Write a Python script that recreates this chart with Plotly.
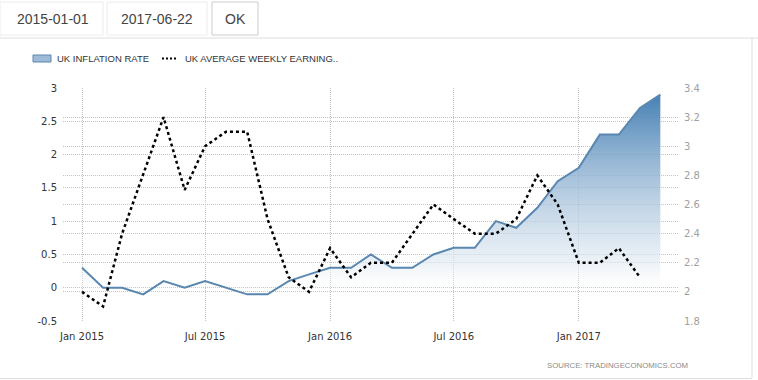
import plotly.graph_objects as go

# ---------------- data ----------------
months = ["2015-01-01", "2015-02-01", "2015-03-01", "2015-04-01", "2015-05-01", "2015-06-01",
          "2015-07-01", "2015-08-01", "2015-09-01", "2015-10-01", "2015-11-01", "2015-12-01",
          "2016-01-01", "2016-02-01", "2016-03-01", "2016-04-01", "2016-05-01", "2016-06-01",
          "2016-07-01", "2016-08-01", "2016-09-01", "2016-10-01", "2016-11-01", "2016-12-01",
          "2017-01-01", "2017-02-01", "2017-03-01", "2017-04-01", "2017-05-01"]

inflation = [0.3, 0.0, 0.0, -0.1, 0.1, 0.0, 0.1, 0.0, -0.1, -0.1, 0.1, 0.2,
             0.3, 0.3, 0.5, 0.3, 0.3, 0.5, 0.6, 0.6, 1.0, 0.9, 1.2, 1.6,
             1.8, 2.3, 2.3, 2.7, 2.9]

earnings = [2.0, 1.9, 2.4, 2.8, 3.2, 2.7, 3.0, 3.1, 3.1, 2.5, 2.1, 2.0,
            2.3, 2.1, 2.2, 2.2, 2.4, 2.6, 2.5, 2.4, 2.4, 2.5, 2.8, 2.6,
            2.2, 2.2, 2.3, 2.1]

x_tick_vals = ["2015-01-01", "2015-07-01", "2016-01-01", "2016-07-01", "2017-01-01"]
x_tick_text = ["Jan 2015", "Jul 2015", "Jan 2016", "Jul 2016", "Jan 2017"]

left_ticks = [-0.5, 0, 0.5, 1, 1.5, 2, 2.5, 3]
left_tick_text = ["-0.5", "0", "0.5", "1", "1.5", "2", "2.5", "3"]
right_ticks = [1.8, 2.0, 2.2, 2.4, 2.6, 2.8, 3.0, 3.2, 3.4]
right_tick_text = ["1.8", "2", "2.2", "2.4", "2.6", "2.8", "3", "3.2", "3.4"]

series_names = ["UK INFLATION RATE", "UK AVERAGE WEEKLY EARNING.."]
date_from, date_to, ok_label = "2015-01-01", "2017-06-22", "OK"
source_text = "SOURCE: TRADINGECONOMICS.COM"

# ---------------- layout geometry ----------------
W, H = 758, 380
PL, PR, PT, PB = 63, 678, 88, 321  # plot area in pixels


def px(x):
    return (x - PL) / (PR - PL)


def py(y):
    return (PB - y) / (PB - PT)


fig = go.Figure()

fig.add_trace(go.Scatter(
    x=months, y=inflation, name=series_names[0], mode="lines",
    line=dict(color="#5a87b0", width=2),
    fill="tozeroy",
    fillgradient=dict(type="vertical",
                      colorscale=[[0, "rgba(255,255,255,0.0)"],
                                  [0.15, "rgba(225,234,243,0.6)"],
                                  [1, "rgba(70,128,180,1)"]],
                      start=-0.1, stop=2.9),
    yaxis="y", showlegend=False, hoverinfo="skip"))

fig.add_trace(go.Scatter(
    x=months[:len(earnings)], y=earnings, name=series_names[1], mode="lines",
    line=dict(color="#000000", width=2.5, dash="dot"),
    yaxis="y2", showlegend=False, hoverinfo="skip"))

grid = "#c4c4c4"
tick_font = dict(family="DejaVu Sans", size=10, color="#333333")

fig.update_layout(
    width=W, height=H,
    margin=dict(l=PL, r=W - PR, t=PT, b=H - PB),
    paper_bgcolor="white", plot_bgcolor="white",
    xaxis=dict(type="date", range=["2014-12-04", "2017-05-27"],
               tickvals=x_tick_vals, ticktext=x_tick_text,
               showgrid=True, gridcolor=grid, griddash="1px,1px", gridwidth=1,
               zeroline=False, showline=False,
               ticks="outside", ticklen=6, tickcolor="rgba(0,0,0,0)",
               tickfont=tick_font),
    yaxis=dict(range=[-0.5, 3], tickvals=left_ticks, ticktext=left_tick_text,
               showgrid=True, gridcolor=grid, griddash="1px,1px", gridwidth=1,
               zeroline=False, showline=False,
               ticks="outside", ticklen=3, tickcolor="rgba(0,0,0,0)",
               tickfont=tick_font),
    yaxis2=dict(range=[1.8, 3.4], tickvals=right_ticks, ticktext=right_tick_text,
                overlaying="y", side="right",
                showgrid=True, gridcolor=grid, griddash="1px,1px", gridwidth=1,
                zeroline=False, showline=False,
                ticks="outside", ticklen=3, tickcolor="rgba(0,0,0,0)",
                tickfont=dict(family="DejaVu Sans", size=10, color="#a0a0a0")),
)

shapes = []
annotations = []

# top input boxes
for (x0, x1, col) in [(0, 103, "#ececec"), (107, 207, "#ececec"), (212, 258, "#cccccc")]:
    shapes.append(dict(type="rect", xref="paper", yref="paper",
                       x0=px(x0), x1=px(x1), y0=py(35), y1=py(2),
                       line=dict(color=col, width=1), fillcolor="white", layer="below"))
for text, cx in [(date_from, 53), (date_to, 157), (ok_label, 235)]:
    annotations.append(dict(text=text, xref="paper", yref="paper", x=px(cx), y=py(19),
                            xanchor="center", yanchor="middle", showarrow=False,
                            font=dict(family="Liberation Sans", size=14, color="#444444")))

# separator and border lines
shapes.append(dict(type="line", xref="paper", yref="paper", x0=px(0), x1=px(758),
                   y0=py(38), y1=py(38), line=dict(color="#dddddd", width=1)))
shapes.append(dict(type="line", xref="paper", yref="paper", x0=px(752), x1=px(752),
                   y0=py(38), y1=py(378), line=dict(color="#dddddd", width=1)))
shapes.append(dict(type="line", xref="paper", yref="paper", x0=px(0), x1=px(752),
                   y0=py(378.5), y1=py(378.5), line=dict(color="#dddddd", width=1)))

# legend
shapes.append(dict(type="rect", xref="paper", yref="paper",
                   x0=px(33), x1=px(51), y0=py(62), y1=py(55),
                   line=dict(color="#5a87b0", width=1), fillcolor="#9dbad6"))
annotations.append(dict(text=series_names[0], xref="paper", yref="paper", x=px(55), y=py(58.5),
                        xanchor="left", yanchor="middle", showarrow=False,
                        font=dict(family="Liberation Sans", size=9.5, color="#333333")))
shapes.append(dict(type="line", xref="paper", yref="paper", x0=px(162), x1=px(178),
                   y0=py(58.5), y1=py(58.5),
                   line=dict(color="#000000", width=2, dash="2px,2px")))
annotations.append(dict(text=series_names[1], xref="paper", yref="paper", x=px(183), y=py(58.5),
                        xanchor="left", yanchor="middle", showarrow=False,
                        font=dict(family="Liberation Sans", size=9.5, color="#333333")))

# source
annotations.append(dict(text=source_text, xref="paper", yref="paper", x=px(690), y=py(365),
                        xanchor="right", yanchor="middle", showarrow=False,
                        font=dict(family="Liberation Sans", size=7.8, color="#8a8a8a")))

fig.update_layout(shapes=shapes, annotations=annotations)

fig.write_html("out.html", config={"displayModeBar": False},
               post_script="document.body.style.margin='0';")
